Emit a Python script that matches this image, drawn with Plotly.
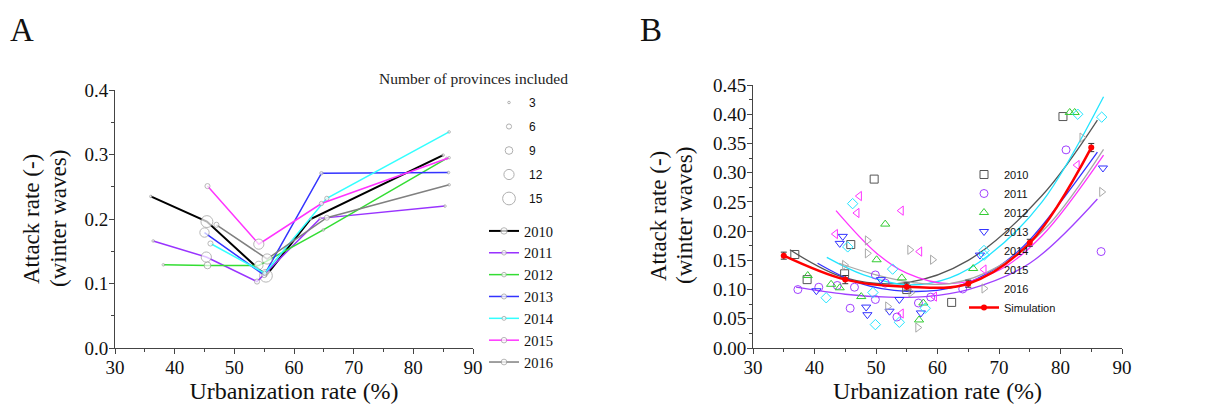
import plotly.graph_objects as go

W, H = 1210, 419
OFF = 8  # page body margin of the browser
SERIF = "Liberation Serif"
SANS = "Liberation Sans"

years = ["2010", "2011", "2012", "2013", "2014", "2015", "2016"]

# ---------------- Panel A data (binned by urbanization) ----------------
a_x = {
    "2010": [36.0, 45.4, 55.3, 62.8, 85.0],
    "2011": [36.4, 45.3, 53.8, 64.4, 85.3],
    "2012": [38.1, 45.5, 54.1, 64.9, 85.6],
    "2013": [45.0, 55.0, 64.6, 85.9],
    "2014": [46.0, 55.1, 65.5, 86.0],
    "2015": [45.5, 54.1, 64.6, 86.0],
    "2016": [47.0, 55.5, 65.5, 86.0],
}
a_y = {
    "2010": [0.235, 0.196, 0.112, 0.200, 0.299],
    "2011": [0.166, 0.141, 0.103, 0.201, 0.220],
    "2012": [0.129, 0.128, 0.128, 0.183, 0.294],
    "2013": [0.179, 0.113, 0.271, 0.272],
    "2014": [0.162, 0.116, 0.232, 0.335],
    "2015": [0.251, 0.161, 0.224, 0.295],
    "2016": [0.191, 0.138, 0.202, 0.253],
}
a_n = {
    "2010": [3, 14, 15, 3, 3],
    "2011": [3, 12, 6, 3, 3],
    "2012": [3, 8, 10, 3, 3],
    "2013": [11, 6, 4, 3],
    "2014": [6, 5, 5, 3],
    "2015": [6, 12, 5, 3],
    "2016": [6, 12, 6, 3],
}
size_legend = [3, 6, 9, 12, 15]

a_colors = {
    "2010": "#000000", "2011": "#9933FF", "2012": "#33DD33", "2013": "#3333FF",
    "2014": "#33FFFF", "2015": "#FF33FF", "2016": "#808080",
}

# ---------------- Panel B data (provinces) ----------------
b_x = {
    "2010": [36.8, 38.8, 44.9, 45.9, 49.7, 55.0, 62.3, 80.4],
    "2011": [37.3, 40.7, 43.7, 45.8, 46.5, 49.9, 49.9, 51.5, 53.4, 56.9, 58.9, 64.1, 80.9, 86.6],
    "2012": [38.9, 42.7, 44.1, 47.6, 50.1, 51.5, 54.2, 57.0, 57.7, 65.8, 81.5, 82.3],
    "2013": [40.3, 44.1, 44.6, 48.4, 48.6, 50.8, 52.2, 53.8, 57.3, 66.9, 86.9],
    "2014": [41.9, 45.4, 46.2, 49.5, 49.9, 52.7, 53.8, 58.0, 67.6, 82.8, 86.7],
    "2015": [43.4, 46.9, 47.3, 54.1, 54.1, 57.1, 59.5, 82.7],
    "2016": [44.9, 48.6, 48.6, 51.9, 55.5, 55.7, 56.8, 59.2, 83.5, 86.7],
}
b_y = {
    "2010": [0.160, 0.117, 0.127, 0.177, 0.289, 0.100, 0.078, 0.396],
    "2011": [0.100, 0.104, 0.107, 0.068, 0.104, 0.083, 0.125, 0.111, 0.053, 0.077, 0.087, 0.101, 0.339, 0.165],
    "2012": [0.124, 0.109, 0.103, 0.088, 0.151, 0.212, 0.120, 0.048, 0.077, 0.136, 0.403, 0.403],
    "2013": [0.098, 0.179, 0.191, 0.070, 0.057, 0.117, 0.063, 0.083, 0.060, 0.159, 0.308],
    "2014": [0.086, 0.173, 0.247, 0.095, 0.040, 0.135, 0.044, 0.068, 0.159, 0.400, 0.395],
    "2015": [0.195, 0.231, 0.260, 0.235, 0.059, 0.165, 0.088, 0.313],
    "2016": [0.142, 0.184, 0.162, 0.071, 0.168, 0.095, 0.035, 0.151, 0.360, 0.267],
}
# fitted curves
fit_x = {
    "2010": [36, 45, 55, 65, 77, 86],
    "2011": [37, 45, 52, 58, 65, 75, 86],
    "2013": [40.5, 47, 55, 63, 70, 75, 86],
    "2014": [42, 48, 55, 62, 68.5, 77, 87],
    "2015": [43.5, 50, 55, 62, 70, 77, 87],
    "2016": [44, 50, 56, 62, 70, 78, 87],
}
fit_y = {
    "2010": [0.168, 0.120, 0.112, 0.150, 0.261, 0.390],
    "2011": [0.104, 0.092, 0.087, 0.088, 0.100, 0.145, 0.255],
    "2013": [0.145, 0.112, 0.097, 0.105, 0.140, 0.185, 0.335],
    "2014": [0.155, 0.125, 0.108, 0.120, 0.160, 0.250, 0.430],
    "2015": [0.235, 0.163, 0.128, 0.110, 0.133, 0.192, 0.330],
    "2016": [0.145, 0.125, 0.112, 0.110, 0.140, 0.210, 0.340],
}
b_colors = {
    "2010": "#555555", "2011": "#A040FF", "2012": "#33CC33", "2013": "#3333FF",
    "2014": "#22E5FF", "2015": "#FF33FF", "2016": "#A8A8A8",
}
b_symbols = {
    "2010": "square-open", "2011": "circle-open", "2012": "triangle-up-open",
    "2013": "triangle-down-open", "2014": "diamond-open", "2015": "triangle-left-open",
    "2016": "triangle-right-open",
}
sim_x = [35, 45, 55, 65, 75, 85]
sim_y = [0.158, 0.117, 0.105, 0.110, 0.180, 0.343]
sim_err = [0.006, 0.007, 0.006, 0.006, 0.006, 0.007]

SIZE_SCALE = 0.85

fig = go.Figure()

# ---- Panel A ----
for yr in years:
    fig.add_trace(go.Scatter(
        x=a_x[yr], y=a_y[yr], mode="lines+markers", name=yr,
        line=dict(color=a_colors[yr], width=2 if yr == "2010" else 1.5),
        marker=dict(size=[n * SIZE_SCALE for n in a_n[yr]], color="white",
                    line=dict(color="#9a9a9a", width=1)),
        xaxis="x", yaxis="y", legend="legend2",
    ))
for n in size_legend:
    fig.add_trace(go.Scatter(
        x=[None], y=[None], mode="markers", name=str(n), legendgroup="s" + str(n),
        marker=dict(size=n * SIZE_SCALE, color="white", line=dict(color="#b0b0b0", width=1)),
        xaxis="x", yaxis="y", legend="legend",
    ))

# ---- Panel B ----
for yr in years:
    if yr in fit_x:
        fig.add_trace(go.Scatter(
            x=fit_x[yr], y=fit_y[yr], mode="lines", line=dict(color=b_colors[yr], width=1.3, shape="spline"),
            showlegend=False, xaxis="x2", yaxis="y2", hoverinfo="skip",
        ))
for yr in years:
    fig.add_trace(go.Scatter(
        x=b_x[yr], y=b_y[yr], mode="markers", name=yr,
        marker=dict(symbol=b_symbols[yr], size=8, color=b_colors[yr], line=dict(width=1)),
        xaxis="x2", yaxis="y2", legend="legend3",
    ))
fig.add_trace(go.Scatter(
    x=sim_x, y=sim_y, mode="lines+markers", name="Simulation",
    line=dict(color="#FF0000", width=2.5, shape="spline"),
    marker=dict(symbol="circle", size=6, color="#FF0000"),
    error_y=dict(type="data", array=sim_err, color="#333333", thickness=1, width=3),
    xaxis="x2", yaxis="y2", legend="legend3",
))


def px_x(p):
    return (p - OFF) / W


def px_y(p):
    return 1 - (p - OFF) / H


axis_common = dict(
    showline=True, linecolor="#444444", linewidth=1, ticks="outside", ticklen=5,
    tickcolor="#444444", showgrid=False, zeroline=False, automargin=False,
    ticklabelstandoff=-3,
    tickfont=dict(family=SERIF, size=19, color="#111111"),
)

fig.update_layout(
    width=W, height=H, autosize=False,
    margin=dict(l=0, r=0, t=0, b=0, autoexpand=False),
    paper_bgcolor="white", plot_bgcolor="white",
    xaxis=dict(domain=[px_x(115), px_x(473)], range=[30, 90], anchor="y", dtick=10, tick0=30,
               minor=dict(dtick=5, ticks="outside", ticklen=3, tickcolor="#444444"),
               title=dict(text="Urbanization rate (%)", font=dict(family=SERIF, size=24, color="#111"), standoff=3),
               **axis_common),
    yaxis=dict(domain=[px_y(348), px_y(90)], range=[0, 0.4], anchor="x", dtick=0.1, tick0=0, tickformat=".1f",
               minor=dict(dtick=0.05, ticks="outside", ticklen=3, tickcolor="#444444"),
               **axis_common),
    xaxis2=dict(domain=[px_x(753), px_x(1122)], range=[30, 90], anchor="y2", dtick=10, tick0=30,
                minor=dict(dtick=5, ticks="outside", ticklen=3, tickcolor="#444444"),
                title=dict(text="Urbanization rate (%)", font=dict(family=SERIF, size=24, color="#111"), standoff=3),
                **axis_common),
    yaxis2=dict(domain=[px_y(348), px_y(85)], range=[0, 0.45], anchor="x2", dtick=0.05, tick0=0, tickformat=".2f",
                minor=dict(dtick=0.025, ticks="outside", ticklen=3, tickcolor="#444444"),
                **axis_common),
    legend=dict(x=px_x(489), y=px_y(88), xanchor="left", yanchor="top", itemsizing="trace",
                tracegroupgap=5, bgcolor="rgba(0,0,0,0)",
                font=dict(family=SANS, size=12, color="#111")),
    legend2=dict(x=px_x(484), y=px_y(215), xanchor="left", yanchor="top", itemsizing="trace",
                 tracegroupgap=0, bgcolor="rgba(0,0,0,0)",
                 font=dict(family=SERIF, size=14.5, color="#111")),
    legend3=dict(x=px_x(964), y=px_y(160), xanchor="left", yanchor="top", itemsizing="trace",
                 tracegroupgap=0, bgcolor="rgba(0,0,0,0)",
                 font=dict(family=SANS, size=11, color="#111")),
    showlegend=True,
)

annots = [
    dict(text="A", x=px_x(22), y=px_y(30), font=dict(family=SERIF, size=33, color="#111")),
    dict(text="B", x=px_x(651), y=px_y(30), font=dict(family=SERIF, size=33, color="#111")),
    dict(text="Number of provinces included", x=px_x(473), y=px_y(78),
         font=dict(family=SERIF, size=15.5, color="#222")),
    dict(text="Attack rate (-)", x=px_x(31), y=px_y(219), textangle=-90,
         font=dict(family=SERIF, size=23, color="#111")),
    dict(text="(winter waves)", x=px_x(58), y=px_y(219), textangle=-90,
         font=dict(family=SERIF, size=23, color="#111")),
    dict(text="Attack rate (-)", x=px_x(658), y=px_y(216), textangle=-90,
         font=dict(family=SERIF, size=23, color="#111")),
    dict(text="(winter waves)", x=px_x(684), y=px_y(216), textangle=-90,
         font=dict(family=SERIF, size=23, color="#111")),
]
for a in annots:
    fig.add_annotation(xref="paper", yref="paper", showarrow=False, xanchor="center", yanchor="middle", **a)

fig.write_html("out.html")
